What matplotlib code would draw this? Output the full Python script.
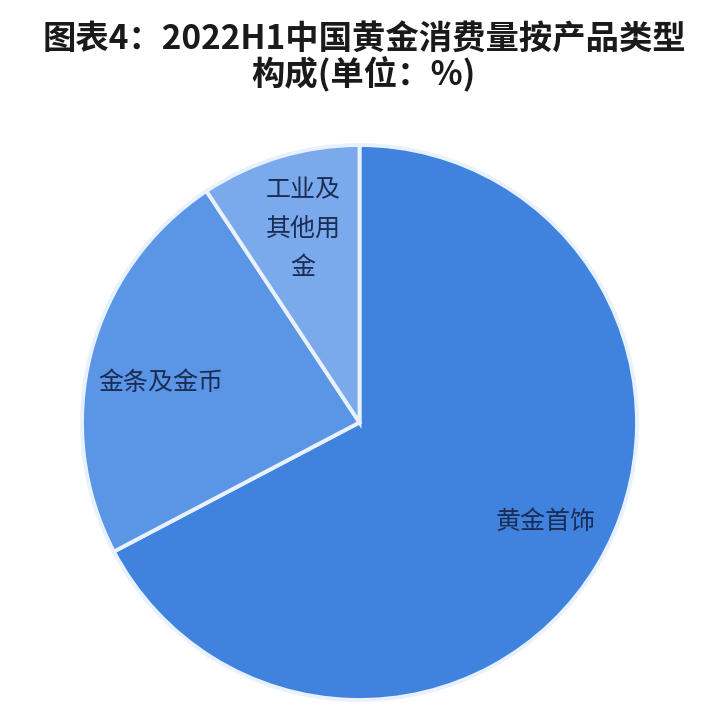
import matplotlib.pyplot as plt

plt.rcParams['font.family'] = ['Noto Sans CJK SC', 'DejaVu Sans']

# 2022H1 中国黄金消费量按产品类型构成 (%)
labels = ['黄金首饰', '金条及金币', '工业及其他用金']
shares = [67.3, 23.4, 9.3]
colors = ['#3f83df', '#5b96e6', '#7aaaec']

fig = plt.figure(figsize=(7.28, 7.2), dpi=100)
ax = fig.add_axes([82 / 728, 20 / 720, 555 / 728, 555 / 720])

ax.pie(shares, colors=colors, startangle=90, counterclock=False, radius=1,
       wedgeprops=dict(edgecolor='#e9f2fc', linewidth=2.8))

# slice labels
txt = dict(ha='center', va='center', fontsize=18, color='#1b2c55')
ax.text(0.672, -0.36, labels[0], **txt)
ax.text(-0.716, 0.142, labels[1], **txt)
ax.text(-0.204, 0.697, '工业及\n其他用\n金', linespacing=1.65, **txt)

ax.set_xlim(-1.0, 1.0)
ax.set_ylim(-1.0, 1.0)
ax.set_aspect('equal')
ax.axis('off')

fig.text(0.5, 0.919, '图表4：2022H1中国黄金消费量按产品类型\n构成(单位：%)',
         ha='center', va='center', fontsize=24, fontweight='bold',
         color='#1a1a1a', linespacing=1.0)

fig.savefig('out.png', dpi=100, facecolor='white')
